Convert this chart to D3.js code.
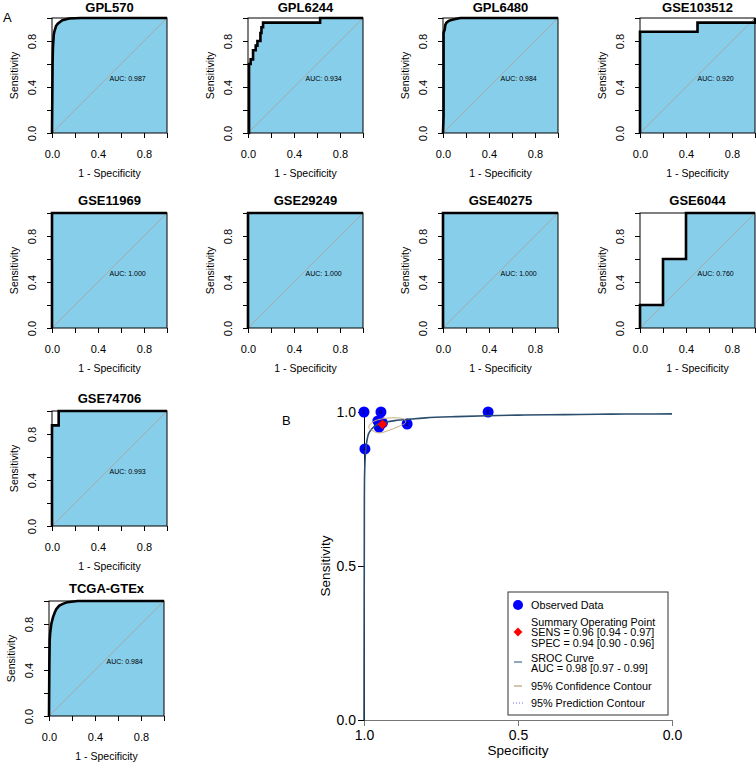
<!DOCTYPE html>
<html><head><meta charset="utf-8">
<script src="https://cdn.jsdelivr.net/npm/d3@7"></script>
<style>body{margin:0;background:#fff}svg{display:block;font-family:"Liberation Sans",Arial,sans-serif}</style>
</head><body><svg id="c" width="756" height="764"></svg>
<script>
// ---------- Panel A data ----------
const datasetNames = ["GPL570","GPL6244","GPL6480","GSE103512","GSE11969","GSE29249","GSE40275","GSE6044","GSE74706","TCGA-GTEx"];
const aucLabels = ["0.987","0.934","0.984","0.920","1.000","1.000","1.000","0.760","0.993","0.984"];
// ROC points: [1 - specificity, sensitivity]
const rocGPL570 = [[0,0],[0.005,0.6],[0.008,0.74],[0.015,0.85],[0.02,0.88],[0.035,0.93],[0.05,0.95],[0.09,0.98],[0.15,0.995],[0.25,1],[1,1]];
const rocGPL6244 = [[0,0],[0.009,0],[0.009,0.6],[0.023,0.6],[0.023,0.64],[0.044,0.64],[0.044,0.72],[0.067,0.72],[0.067,0.76],[0.082,0.76],[0.082,0.8],[0.108,0.8],[0.108,0.87],[0.117,0.87],[0.117,0.92],[0.131,0.92],[0.131,0.96],[0.627,0.96],[0.627,1],[1,1]];
const rocGPL6480 = [[0,0],[0.005,0.15],[0.005,0.87],[0.015,0.9],[0.02,0.94],[0.03,0.96],[0.05,0.975],[0.08,0.985],[0.13,0.995],[0.15,1],[1,1]];
const rocGSE103512 = [[0,0],[0,0.88],[0.5,0.88],[0.5,0.96],[1,0.96],[1,1]];
const rocGSE11969 = [[0,0],[0,1],[1,1]];
const rocGSE29249 = [[0,0],[0,1],[1,1]];
const rocGSE40275 = [[0,0],[0,1],[1,1]];
const rocGSE6044 = [[0,0],[0,0.2],[0.2,0.2],[0.2,0.6],[0.4,0.6],[0.4,1],[1,1]];
const rocGSE74706 = [[0,0],[0,0.875],[0.058,0.875],[0.058,1],[1,1]];
const rocTCGA = [[0,0],[0.003,0.45],[0.006,0.66],[0.01,0.72],[0.02,0.8],[0.035,0.86],[0.05,0.9],[0.064,0.93],[0.09,0.96],[0.12,0.975],[0.16,0.99],[0.25,1],[1,1]];
const rocCurves = [rocGPL570,rocGPL6244,rocGPL6480,rocGSE103512,rocGSE11969,rocGSE29249,rocGSE40275,rocGSE6044,rocGSE74706,rocTCGA];
const aTicks = [0,0.2,0.4,0.6,0.8,1];
const aTickLabels = ["0.0","","0.4","","0.8",""];

// ---------- Panel B data ----------
const obsSpec = [1.0, 0.945, 0.597, 0.86, 0.997, 0.955, 0.951, 0.94];
const obsSens = [1.0, 1.0, 1.0, 0.961, 0.88, 0.971, 0.951, 0.965];
const obsLabels = ["1","9","8","2","4","3","5","10"];
const summarySpec = [0.94];
const summarySens = [0.96];
const srocSpec = [1.0,0.9995,0.999,0.998,0.995,0.99,0.985,0.975,0.964,0.95,0.93,0.9,0.85,0.8,0.7,0.6,0.5,0.4,0.3,0.2,0.1,0.0];
const srocSens = [0.0,0.35,0.6,0.8,0.87,0.91,0.93,0.945,0.955,0.962,0.967,0.972,0.977,0.981,0.985,0.988,0.990,0.991,0.992,0.993,0.9935,0.994];
const confSpec = [0.985,0.97,0.95,0.92,0.89,0.865,0.87,0.895,0.925,0.955,0.975];
const confSens = [0.95,0.938,0.932,0.94,0.952,0.966,0.977,0.981,0.98,0.975,0.965];
const bTicks = [0,0.5,1];
const bTickLabels = ["0.0","0.5","1.0"];
const legendLines = [
  ["Observed Data"],
  ["Summary Operating Point","SENS = 0.96 [0.94 - 0.97]","SPEC = 0.94 [0.90 - 0.96]"],
  ["SROC Curve","AUC = 0.98 [0.97 - 0.99]"],
  ["95% Confidence Contour"],
  ["95% Prediction Contour"]
];

const svg = d3.select("#c");
const SZ = 115;
const panelPos = [[52,18],[248,18],[443,18],[640,18],[52,213],[248,213],[443,213],[640,213],[52,411],[49,601]];

svg.append("text").attr("x",3).attr("y",22).attr("font-size",13).text("A");
svg.append("text").attr("x",282).attr("y",425).attr("font-size",13).text("B");

rocCurves.forEach((pts,i)=>{
  const [L,T] = panelPos[i];
  const x = d3.scaleLinear([0,1],[L,L+SZ]);
  const y = d3.scaleLinear([0,1],[T+SZ,T]);
  const g = svg.append("g");
  g.append("rect").attr("x",L).attr("y",T).attr("width",SZ).attr("height",SZ).attr("fill","#fff");
  g.append("path").datum(pts)
    .attr("d", d3.area().x(d=>x(d[0])).y0(y(0)).y1(d=>y(d[1])))
    .attr("fill","#87CEEB");
  g.append("line").attr("x1",x(0)).attr("y1",y(0)).attr("x2",x(1)).attr("y2",y(1))
    .attr("stroke","#a9a9a9").attr("stroke-width",1);
  g.append("path").datum(pts)
    .attr("d", d3.line().x(d=>x(d[0])).y(d=>y(d[1])))
    .attr("fill","none").attr("stroke","#000").attr("stroke-width",2.6).attr("stroke-linejoin","miter");
  g.append("rect").attr("x",L).attr("y",T).attr("width",SZ).attr("height",SZ)
    .attr("fill","none").attr("stroke","#000").attr("stroke-width",1);
  // x axis
  const ax = g.append("g").attr("transform",`translate(0,${T+SZ})`)
    .call(d3.axisBottom(x).tickValues(aTicks).tickFormat((d,k)=>aTickLabels[k]).tickSize(5).tickPadding(12).tickSizeOuter(0));
  ax.select(".domain").remove();
  ax.selectAll("text").attr("font-size",11).attr("font-family","Liberation Sans, Arial, sans-serif").attr("fill","#000");
  // y axis
  const ay = g.append("g").attr("transform",`translate(${L},0)`)
    .call(d3.axisLeft(y).tickValues(aTicks).tickFormat((d,k)=>aTickLabels[k]).tickSize(5).tickSizeOuter(0));
  ay.select(".domain").remove();
  ay.selectAll("text").attr("font-size",11).attr("font-family","Liberation Sans, Arial, sans-serif").attr("fill","#000")
    .attr("x",0).attr("y",-16).attr("dy",0).attr("text-anchor","middle").attr("transform","rotate(-90)");
  // labels
  g.append("text").attr("x",L+SZ/2).attr("y", i<4 ? 12 : T-8).attr("text-anchor","middle")
    .attr("font-size",13).attr("font-weight","bold").text(datasetNames[i]);
  g.append("text").attr("x",L+SZ/2).attr("y",T+SZ+44).attr("text-anchor","middle")
    .attr("font-size",10.5).text("1 - Specificity");
  g.append("text").attr("transform",`translate(${L-34},${T+SZ/2}) rotate(-90)`).attr("text-anchor","middle")
    .attr("font-size",10.5).text("Sensitivity");
  g.append("text").attr("x",x(0.5)).attr("y",y(0.47)).attr("dy","0.35em")
    .attr("font-size",7).text("AUC: " + aucLabels[i]);
});

// ---------- Panel B ----------
const bx = d3.scaleLinear([1,0],[364,672]);
const by = d3.scaleLinear([0,1],[720,412]);
const gb = svg.append("g");
const xa = gb.append("g").attr("transform","translate(0,720)")
  .call(d3.axisBottom(bx).tickValues(bTicks).tickFormat(d=>bTickLabels[bTicks.indexOf(d)]).tickSize(6).tickPadding(4).tickSizeOuter(0));
xa.select(".domain").attr("stroke","#777");
xa.selectAll("line").attr("stroke","#777");
xa.selectAll("text").attr("font-size",14).attr("font-family","Liberation Sans, Arial, sans-serif").attr("fill","#000");
const ya = gb.append("g").attr("transform","translate(364,0)")
  .call(d3.axisLeft(by).tickValues(bTicks).tickFormat(d=>bTickLabels[bTicks.indexOf(d)]).tickSize(6).tickPadding(2).tickSizeOuter(0));
ya.select(".domain").attr("stroke","#000");
ya.selectAll("text").attr("font-size",14).attr("font-family","Liberation Sans, Arial, sans-serif").attr("fill","#000");
gb.append("text").attr("x",518).attr("y",755).attr("text-anchor","middle").attr("font-size",13.5).text("Specificity");
gb.append("text").attr("transform","translate(330,566) rotate(-90)").attr("text-anchor","middle").attr("font-size",13.5).text("Sensitivity");

// observed points
const obs = obsSpec.map((s,i)=>({spec:s,sens:obsSens[i],lab:obsLabels[i]}));
const og = gb.selectAll("g.obs").data(obs).join("g").attr("class","obs")
  .attr("transform",d=>`translate(${bx(d.spec)},${by(d.sens)})`);
og.append("circle").attr("r",5.5).attr("fill","#0000ff");
og.append("text").attr("text-anchor","middle").attr("dy","0.35em").attr("font-size",5).attr("fill","#000").text(d=>d.lab);

// SROC curve
const sroc = srocSpec.map((s,i)=>[s,srocSens[i]]);
gb.append("path").datum(sroc)
  .attr("d", d3.line().x(d=>bx(d[0])).y(d=>by(d[1])).curve(d3.curveCatmullRom.alpha(0.5)))
  .attr("fill","none").attr("stroke","#2b4d6e").attr("stroke-width",1.6);
// confidence contour
const conf = confSpec.map((s,i)=>[s,confSens[i]]);
gb.append("path").datum(conf)
  .attr("d", d3.line().x(d=>bx(d[0])).y(d=>by(d[1])).curve(d3.curveCatmullRomClosed.alpha(0.5)))
  .attr("fill","none").attr("stroke","#c4ad80").attr("stroke-width",1);
// summary point
gb.selectAll("path.sum").data(summarySpec.map((s,i)=>[s,summarySens[i]])).join("path").attr("class","sum")
  .attr("d", d3.symbol(d3.symbolDiamond2, 60))
  .attr("transform",d=>`translate(${bx(d[0])},${by(d[1])})`).attr("fill","#ff0000");

// legend
const lg = gb.append("g");
lg.append("rect").attr("x",508).attr("y",592).attr("width",160).attr("height",123)
  .attr("fill","#fff").attr("stroke","#333").attr("stroke-width",1);
const rowY = [605, 622, 658, 686, 703];
const lh = 10.7;
legendLines.forEach((lines,i)=>{
  lines.forEach((t,j)=>{
    lg.append("text").attr("x",531).attr("y",rowY[i]+j*lh).attr("dy","0.35em").attr("font-size",10.8).text(t);
  });
});
lg.append("circle").attr("cx",518).attr("cy",605).attr("r",5).attr("fill","#0000ff");
lg.append("path").attr("d",d3.symbol(d3.symbolDiamond2,50)).attr("transform","translate(518,632)").attr("fill","#ff0000");
lg.append("line").attr("x1",514).attr("x2",522).attr("y1",662).attr("y2",662).attr("stroke","#4a6a8a").attr("stroke-width",1.2);
lg.append("line").attr("x1",514).attr("x2",522).attr("y1",686).attr("y2",686).attr("stroke","#b8a070").attr("stroke-width",1.2);
lg.append("line").attr("x1",513).attr("x2",523).attr("y1",703).attr("y2",703).attr("stroke","#6666ff").attr("stroke-width",1).attr("stroke-dasharray","1,2");
</script></body></html>
